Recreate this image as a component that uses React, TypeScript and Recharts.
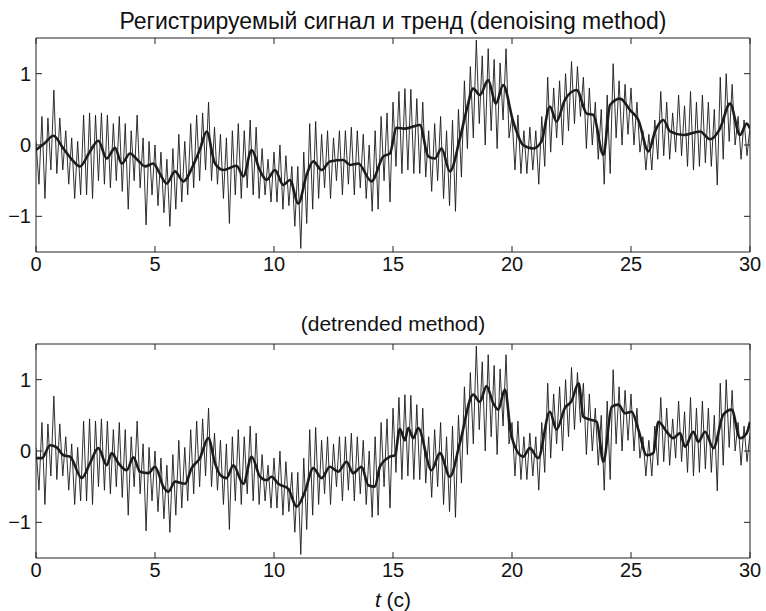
import React from 'react';
import { LineChart, Line, XAxis, YAxis } from 'recharts';

// Sample step of the recorded signal (s)
const SAMPLE_STEP = 0.125;

const signalValues = [
  0.05, -0.55, 0.4, -0.75, 0.38, -0.35, 0.77, -0.4,
  0.38, -0.35, 0.2, -0.55, 0.1, -0.75, 0.05, -0.7,
  0.42, -0.7, 0.45, -0.75, 0.42, -0.5, 0.45, -0.55,
  0.42, -0.6, 0.3, -0.5, 0.4, -0.65, 0.3, -0.9,
  0.2, -0.5, 0.42, -0.6, 0.1, -1.12, 0.05, -0.7,
  0.0, -0.85, -0.1, -0.95, -0.2, -1.14, -0.05, -0.9,
  0.15, -0.8, 0.05, -0.7, 0.3, -0.6, 0.42, -0.5,
  0.45, -0.35, 0.6, -0.5, 0.25, -0.55, 0.15, -0.75,
  0.1, -1.1, 0.2, -0.7, 0.3, -0.75, 0.2, -0.6,
  0.35, -0.7, 0.25, -0.75, -0.05, -0.7, -0.2, -0.8,
  -0.1, -0.8, 0.0, -0.9, -0.15, -0.85, -0.3, -1.14,
  -0.3, -1.45, -0.1, -1.1, 0.3, -0.9, 0.33, -0.75,
  0.15, -0.6, 0.2, -0.75, 0.1, -0.5, 0.2, -0.7,
  0.2, -0.55, 0.25, -0.7, 0.2, -0.6, 0.15, -0.75,
  0.0, -0.93, 0.2, -0.9, 0.4, -0.5, 0.45, -0.8,
  0.6, -0.3, 0.75, -0.4, 0.79, -0.35, 0.78, -0.4,
  0.65, -0.4, 0.6, -0.45, 0.2, -0.65, 0.3, -0.5,
  0.4, -0.75, 0.2, -0.85, 0.35, -0.93, 0.5, -0.45,
  0.9, -0.05, 1.1, 0.1, 1.47, 0.3, 1.25, 0.0,
  1.35, 0.2, 1.2, -0.05, 1.15, 0.35, 1.35, 0.1,
  0.4, -0.35, 0.42, -0.4, 0.2, -0.4, 0.25, -0.35,
  0.2, -0.55, 0.4, -0.3, 0.95, -0.1, 0.8, 0.1,
  0.9, 0.0, 1.0, 0.2, 1.17, 0.3, 1.1, 0.4,
  0.95, -0.05, 0.8, 0.0, 0.6, -0.2, 0.5, -0.55,
  0.7, -0.4, 1.14, 0.1, 0.9, 0.0, 0.85, 0.15,
  0.8, 0.0, 0.6, -0.1, 0.2, -0.35, 0.15, -0.35,
  0.35, -0.2, 0.75, -0.15, 0.6, -0.2, 0.45, -0.1,
  0.7, -0.15, 0.55, -0.3, 0.75, -0.35, 0.6, -0.3,
  0.7, -0.25, 0.6, -0.3, 0.5, -0.56, 0.95, -0.2,
  1.0, 0.05, 0.85, 0.0, 0.4, -0.2, 0.35, -0.15,
  0.25,
];

// Trend, denoising method
const trendTopT = [
  0, 0.35, 0.73, 1.15, 1.5, 1.85, 2.25, 2.62, 2.97, 3.32, 3.6, 3.95, 4.3, 4.58, 4.93,
  5.2, 5.49, 5.84, 6.19, 6.61, 6.9, 7.17, 7.52, 7.87, 8.43, 8.71, 9.06, 9.4, 9.69,
  10.04, 10.39, 10.67, 11.02, 11.37, 11.65, 12.0, 12.35, 12.91, 13.19, 13.54, 14.1,
  14.59, 14.87, 15.15, 15.5, 16.13, 16.48, 16.76, 17.04, 17.39, 17.81, 18.1, 18.37,
  18.65, 19.0, 19.32, 19.63, 20.05, 20.47, 20.89, 21.24, 21.59, 21.87, 22.22, 22.72,
  23.14, 23.42, 23.84, 24.12, 24.54, 24.96, 25.31, 25.73, 26.01, 26.36, 26.64, 27.2,
  27.9, 28.32, 28.74, 29.16, 29.58, 29.86, 30,
];
const trendTopV = [
  -0.07, 0.02, 0.13, -0.05, -0.2, -0.3, -0.1, 0.06, -0.19, -0.04, -0.26, -0.12, -0.22, -0.3, -0.26,
  -0.4, -0.54, -0.37, -0.51, -0.28, -0.05, 0.19, -0.26, -0.35, -0.29, -0.44, -0.07, -0.35, -0.49,
  -0.35, -0.56, -0.49, -0.82, -0.42, -0.23, -0.35, -0.23, -0.21, -0.28, -0.26, -0.51,
  -0.16, -0.12, 0.24, 0.23, 0.28, -0.16, -0.19, -0.05, -0.37, 0.09, 0.5, 0.79,
  0.7, 0.91, 0.58, 0.84, 0.33, 0.0, -0.05, 0.05, 0.54, 0.33, 0.63, 0.77,
  0.44, 0.42, -0.14, 0.56, 0.65, 0.49, 0.35, -0.09, 0.19, 0.35, 0.19, 0.14,
  0.19, 0.08, 0.23, 0.58, 0.14, 0.3, 0.23,
];

// Trend, detrended method
const trendBottomT = [
  0, 0.25, 0.59, 0.87, 1.15, 1.43, 1.92, 2.27, 2.62, 2.97, 3.18, 3.46, 3.81, 4.09, 4.37,
  4.72, 5.0, 5.35, 5.56, 5.84, 6.26, 6.54, 6.89, 7.24, 7.52, 7.73, 8.01, 8.29, 8.71,
  9.06, 9.41, 9.69, 9.9, 10.18, 10.6, 10.95, 11.3, 11.65, 12.0, 12.35, 12.7, 13.05,
  13.33, 13.68, 13.96, 14.24, 14.45, 14.87, 15.08, 15.29, 15.5, 15.64, 15.85, 16.06,
  16.62, 16.97, 17.39, 17.81, 18.37, 18.65, 18.93, 19.21, 19.42, 19.7, 19.98, 20.47,
  20.75, 21.1, 21.59, 21.87, 22.22, 22.5, 22.8, 23.0, 23.28, 23.56, 23.84, 24.19,
  24.47, 24.75, 25.03, 25.31, 25.66, 25.94, 26.15, 26.5, 26.78, 27.06, 27.27, 27.62,
  27.83, 28.11, 28.46, 28.88, 29.23, 29.58, 29.86, 30,
];
const trendBottomV = [
  -0.1, -0.1, 0.08, 0.05, -0.06, -0.08, -0.38, -0.17, 0.04, -0.2, -0.03, -0.17, -0.27, -0.09, -0.29,
  -0.31, -0.22, -0.5, -0.57, -0.43, -0.46, -0.24, -0.1, 0.18, -0.17, -0.33, -0.38, -0.2, -0.46,
  -0.08, -0.36, -0.41, -0.36, -0.46, -0.53, -0.78, -0.57, -0.24, -0.38, -0.22, -0.29, -0.15,
  -0.31, -0.22, -0.48, -0.5, -0.22, -0.08, -0.06, 0.31, 0.15, 0.32, 0.18, 0.32,
  -0.27, -0.03, -0.36, 0.11, 0.79, 0.69, 0.91, 0.67, 0.58, 0.86, 0.2, -0.08,
  0.04, -0.1, 0.55, 0.3, 0.6, 0.7, 0.95, 0.48, 0.44, 0.41, -0.15, 0.62,
  0.65, 0.53, 0.55, 0.3, -0.06, -0.03, 0.41, 0.27, 0.18, 0.25, 0.06, 0.27,
  0.13, 0.27, 0.04, 0.51, 0.58, 0.18, 0.25, 0.41,
];

const xTicks = [0, 5, 10, 15, 20, 25, 30];
const yTicks = [-1, 0, 1];

const titleTop = 'Регистрируемый сигнал и тренд (denoising method)';
const titleBottom = '(detrended method)';

const signalData = signalValues.map((v, i) => ({ t: i * SAMPLE_STEP, v }));
const trendTopData = trendTopT.map((t, i) => ({ t, v: trendTopV[i] }));
const trendBottomData = trendBottomT.map((t, i) => ({ t, v: trendBottomV[i] }));

const FONT = '"Liberation Sans", Arial, Helvetica, sans-serif';
const AXIS_COLOR = '#222';
const fmtY = (v: number) => (v < 0 ? '\u2212' + Math.abs(v) : String(v));

function Panel({ trend }: { trend: { t: number; v: number }[] }) {
  const tickStyle = { fill: '#111', fontSize: 20, fontFamily: FONT };
  return (
    <LineChart width={766} height={280} margin={{ top: 38, right: 16, bottom: 0, left: 0 }}>
      <XAxis
        xAxisId="b"
        dataKey="t"
        type="number"
        domain={[0, 30]}
        ticks={xTicks}
        allowDataOverflow
        height={28}
        tickSize={-6}
        tickMargin={11}
        tick={tickStyle}
        stroke={AXIS_COLOR}
        interval={0}
      />
      <XAxis
        xAxisId="top"
        orientation="top"
        mirror
        dataKey="t"
        type="number"
        domain={[0, 30]}
        ticks={xTicks}
        allowDataOverflow
        tickSize={6}
        tickFormatter={() => ''}
        stroke={AXIS_COLOR}
        interval={0}
      />
      <YAxis
        yAxisId="l"
        type="number"
        domain={[-1.5, 1.5]}
        ticks={yTicks}
        allowDataOverflow
        width={36}
        tickSize={-6}
        tickMargin={11}
        tick={tickStyle}
        tickFormatter={fmtY}
        stroke={AXIS_COLOR}
        interval={0}
      />
      <YAxis
        yAxisId="r"
        orientation="right"
        mirror
        type="number"
        domain={[-1.5, 1.5]}
        ticks={yTicks}
        allowDataOverflow
        tickSize={6}
        tickFormatter={() => ''}
        stroke={AXIS_COLOR}
        interval={0}
      />
      <Line
        xAxisId="b"
        yAxisId="l"
        data={signalData}
        dataKey="v"
        type="linear"
        stroke="#1a1a1a"
        strokeWidth={0.9}
        dot={false}
        isAnimationActive={false}
      />
      <Line
        xAxisId="b"
        yAxisId="l"
        data={trend}
        dataKey="v"
        type="monotone"
        stroke="#1c1c1c"
        strokeWidth={2.6}
        dot={false}
        isAnimationActive={false}
      />
    </LineChart>
  );
}

export default function App() {
  const textStyle: React.CSSProperties = {
    position: 'absolute',
    left: 36,
    width: 714,
    textAlign: 'center',
    fontFamily: FONT,
    color: '#111',
    whiteSpace: 'nowrap',
  };
  return (
    <div style={{ position: 'absolute', left: 0, top: 0, width: 766, height: 611, background: '#fff' }}>
      <div style={{ ...textStyle, top: 8, fontSize: 23, lineHeight: '26px' }}>{titleTop}</div>
      <div style={{ position: 'absolute', left: 0, top: 0 }}>
        <Panel trend={trendTopData} />
      </div>
      <div style={{ ...textStyle, top: 312, fontSize: 21, lineHeight: '24px' }}>{titleBottom}</div>
      <div style={{ position: 'absolute', left: 0, top: 306 }}>
        <Panel trend={trendBottomData} />
      </div>
      <div style={{ ...textStyle, top: 588, fontSize: 21, lineHeight: '23px' }}>
        <i>t</i> (c)
      </div>
    </div>
  );
}
